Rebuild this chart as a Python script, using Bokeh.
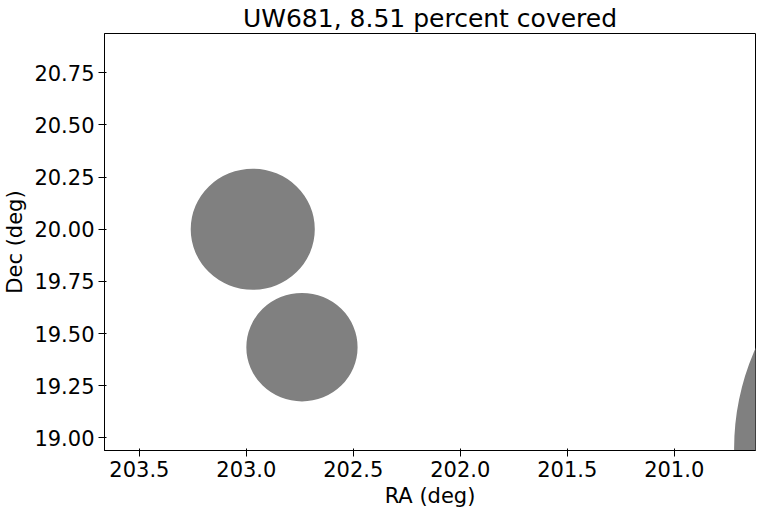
from bokeh.plotting import figure
from bokeh.models import Range1d, FixedTicker, PrintfTickFormatter
from bokeh.embed import file_html
from bokeh.resources import INLINE

# circles in (RA, Dec, radius) degrees
ra = [202.97, 202.74, 199.52]
dec = [20.0, 19.435, 18.95]
radius = [0.29, 0.26, 1.20]

p = figure(width=757, height=510, output_backend="svg", toolbar_location=None,
           x_range=Range1d(203.663, 200.62), y_range=Range1d(18.94, 20.938),
           title="UW681, 8.51 percent covered")
p.ellipse(x=ra, y=dec, width=[2 * r for r in radius], height=[2 * r for r in radius],
          fill_color="#808080", line_color=None)

p.title.text_font_size = "25px"
p.title.text_font_style = "normal"
p.title.text_color = "black"
p.title.align = "center"
p.title.text_font = "DejaVu Sans"
p.title.standoff = 2
p.xaxis.axis_label = "RA (deg)"
p.yaxis.axis_label = "Dec (deg)"
p.xaxis.ticker = FixedTicker(ticks=[203.5, 203.0, 202.5, 202.0, 201.5, 201.0])
p.yaxis.ticker = FixedTicker(ticks=[19.0, 19.25, 19.5, 19.75, 20.0, 20.25, 20.5, 20.75])
p.yaxis.formatter = PrintfTickFormatter(format="%.2f")
p.xaxis.formatter = PrintfTickFormatter(format="%.1f")
for ax in (p.xaxis, p.yaxis):
    ax.axis_label_text_font_size = "21px"
    ax.axis_label_text_font_style = "normal"
    ax.axis_label_text_font = "DejaVu Sans"
    ax.axis_label_text_color = "black"
    ax.axis_label_standoff = 4
    ax.major_label_text_font_size = "21px"
    ax.major_label_text_font = "DejaVu Sans"
    ax.major_label_text_color = "black"
    ax.major_label_standoff = 4
    ax.minor_tick_line_color = None
    ax.axis_line_color = "black"
    ax.major_tick_line_color = "black"
p.xgrid.visible = False
p.ygrid.visible = False
p.outline_line_color = "black"
p.min_border_right = 2
p.min_border_left = 0
p.min_border_top = 0
p.min_border_bottom = 0

open("out.html", "w").write(file_html(p, INLINE))
